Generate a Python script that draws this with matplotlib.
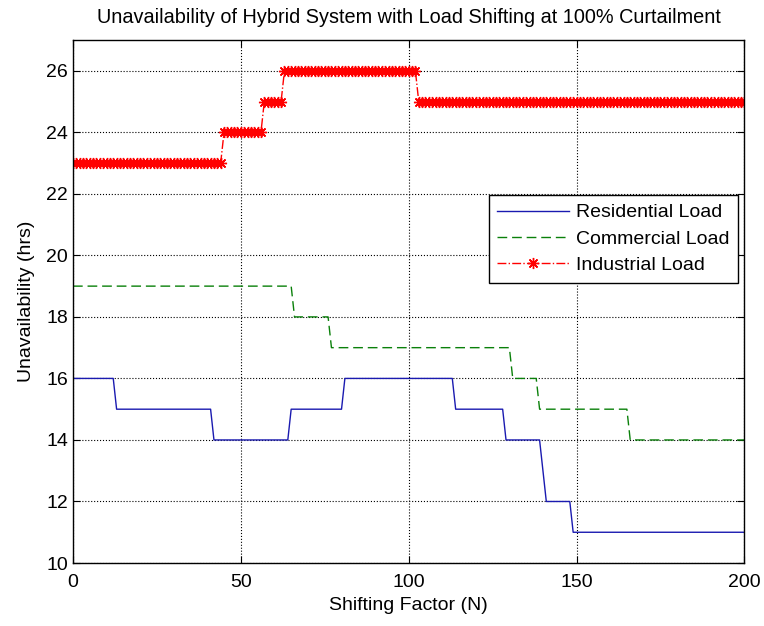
import numpy as np
import matplotlib.pyplot as plt

# Shifting factor N, sampled at every integer from 0 to 200
N = np.arange(0, 201)

# Step levels (hrs) and the N at which each level begins
res_levels = [16, 15, 14, 15, 16, 15, 14, 13, 12, 11]
res_starts = [0, 13, 42, 65, 81, 114, 129, 140, 141, 149]

com_levels = [19, 18, 17, 16, 15, 14]
com_starts = [0, 66, 77, 131, 139, 166]

ind_levels = [23, 24, 25, 26, 25]
ind_starts = [0, 45, 57, 63, 103]

def Expand(levels, starts, x):
    # hold each level from its start until the next one begins
    idx = np.searchsorted(starts, x, side='right') - 1
    return np.array(levels)[idx]

res = Expand(res_levels, res_starts, N)
com = Expand(com_levels, com_starts, N)
ind = Expand(ind_levels, ind_starts, N)

plt.rcParams['font.family'] = ['Liberation Sans', 'DejaVu Sans']
fs = 14

fig = plt.figure(figsize=(7.64, 6.26), dpi=100)
ax = fig.add_axes([0.0955, 0.1006, 0.8788, 0.8355])

ax.plot(N, res, '-', color='#1a1ab0', linewidth=1.0, label='Residential Load')
ax.plot(N, com, '--', color='#0a800a', linewidth=1.0, dashes=(7, 3.5), label='Commercial Load')
ax.plot(N, ind, '-.', color='red', linewidth=1.0, marker=(8, 2, 0), markersize=8,
        markeredgewidth=1.0, label='Industrial Load')

ax.set_xlim(0, 200)
ax.set_ylim(10, 27)
ax.set_xticks([0, 50, 100, 150, 200])
ax.set_yticks(np.arange(10, 27, 2))
ax.grid(True, linestyle=':', color='black', linewidth=0.8)
ax.tick_params(axis='x', pad=8)
ax.tick_params(direction='in', top=True, right=True, labelsize=fs, length=5)
for s in ax.spines.values():
    s.set_linewidth(1.0)

ax.set_title('Unavailability of Hybrid System with Load Shifting at 100% Curtailment', fontsize=14.3, pad=12)
ax.set_xlabel('Shifting Factor (N)', fontsize=fs, labelpad=4)
ax.set_ylabel('Unavailability (hrs)', fontsize=fs, labelpad=8)

leg = ax.legend(loc='upper right', bbox_to_anchor=(0.991, 0.7036), borderaxespad=0,
                fontsize=fs, fancybox=False, framealpha=1, edgecolor='black',
                borderpad=0.45, labelspacing=0.45, handlelength=3.7, handletextpad=0.35)
leg.get_frame().set_linewidth(1.0)

fig.savefig('out.png', dpi=100)
